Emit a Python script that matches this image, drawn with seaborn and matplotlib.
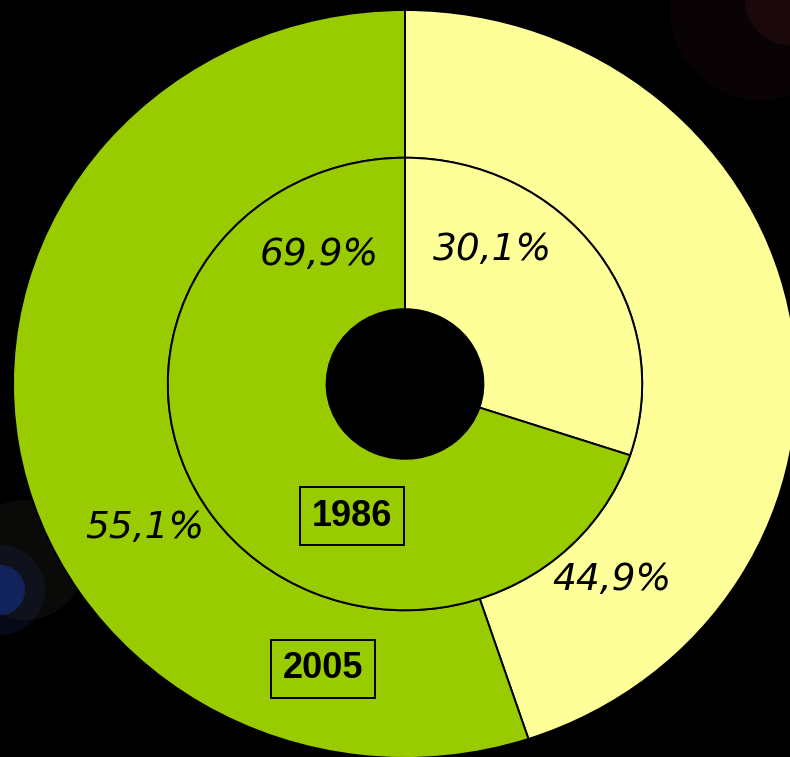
import matplotlib
matplotlib.use("Agg")
import matplotlib.pyplot as plt
from matplotlib.patches import Ellipse
import seaborn as sns

# ---- data ----
years = ["2005", "1986"]
categories = ["yellow share", "green share"]
values_2005 = [44.9, 55.1]
values_1986 = [30.1, 69.9]
labels_2005 = ["44,9%", "55,1%"]
labels_1986 = ["30,1%", "69,9%"]

sns.set_theme(style="dark")
plt.rcParams["font.family"] = ["DejaVu Sans"]

colors = ["#FFFF99", "#99CC00"]

W, H = 790, 757
fig = plt.figure(figsize=(W / 100, H / 100), dpi=100, facecolor="black")

# background axes for faint lens-flare glows (drawn beneath the chart)
bg = fig.add_axes([0, 0, 1, 1], zorder=0)
bg.set_xlim(0, W)
bg.set_ylim(H, 0)
bg.set_facecolor("black")
bg.axis("off")
for (gx, gy, gr, gc, ga) in [(0, 590, 25, "#0a2a9a", 0.8),
                             (0, 590, 45, "#142050", 0.3),
                             (25, 560, 60, "#2a2a24", 0.25),
                             (790, 0, 45, "#3a1212", 0.45),
                             (760, 10, 90, "#1a0a10", 0.35)]:
    bg.add_patch(Ellipse((gx, gy), 2 * gr, 2 * gr, facecolor=gc, edgecolor="none", alpha=ga))

ax = fig.add_axes([0, 0, 1, 1], zorder=1)
ax.set_facecolor("none")

R_OUT = 1.0
R_MID = 0.605
R_HOLE = 0.2
edge = dict(edgecolor="black", linewidth=1.4)

ax.pie(values_2005, radius=R_OUT, colors=colors, startangle=90, counterclock=False,
       wedgeprops=dict(width=R_OUT - R_MID, **edge))
ax.pie(values_1986, radius=R_MID, colors=colors, startangle=90, counterclock=False,
       wedgeprops=dict(width=R_MID - R_HOLE, **edge))
ax.set_facecolor("none")

# slight horizontal stretch like the reference
cx, cy, rx, ry = 405, 384, 392, 374
ax.set_aspect("auto")
ax.set_xlim(-cx / rx, (W - cx) / rx)
ax.set_ylim(-(H - cy) / ry, cy / ry)
ax.axis("off")

# the hole of the donut shows plain black
ax.add_patch(Ellipse((0, 0), 2 * R_HOLE, 2 * R_HOLE, facecolor="black", edgecolor="none", zorder=3))

pct_kw = dict(fontsize=27, style="oblique", color="black", ha="center", va="center",
              family=["DejaVu Sans"])
ax.text(0.222, 0.358, labels_1986[0], **pct_kw)
ax.text(-0.219, 0.345, labels_1986[1], **pct_kw)
ax.text(0.528, -0.524, labels_2005[0], **pct_kw)
ax.text(-0.663, -0.385, labels_2005[1], **pct_kw)

box_kw = dict(fontsize=26, fontweight="bold", color="black", ha="center", va="center",
              family=["Liberation Sans", "DejaVu Sans"],
              bbox=dict(boxstyle="square,pad=0.33", facecolor="none", edgecolor="black", linewidth=1.4))
ax.text(-0.135, -0.353, years[1], **box_kw)
ax.text(-0.209, -0.762, years[0], **box_kw)

fig.savefig("out.png", dpi=100, facecolor="black")
